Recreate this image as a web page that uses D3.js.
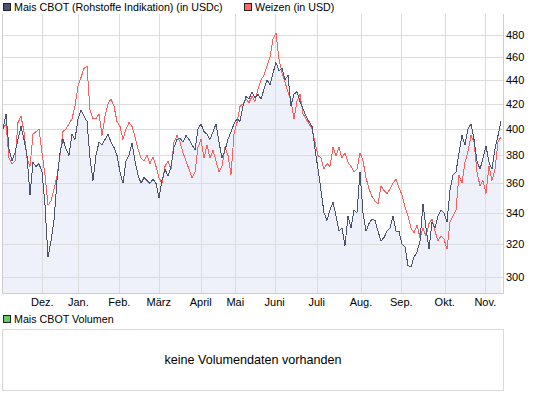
<!DOCTYPE html>
<html>
<head>
<meta charset="utf-8">
<script src="https://cdn.jsdelivr.net/npm/d3@7"></script>
<style>
body{margin:0;background:#fff;}
text{font-family:"Liberation Sans",Arial,sans-serif;font-size:11px;fill:#000;}
</style>
</head>
<body>
<svg width="545" height="395"></svg>
<script>
// Mais CBOT (USDc), one value per sample step
var mais=[400,412,385,376,382,392,402,392,380,352,375,372,374,368,345,312,322,335,362,382,
392,385,380,396,392,408,415,410,406,378,362,380,390,388,392,396,390,386,380,368,
360,376,380,389,376,366,360,364,362,360,363,360,350,362,370,365,372,386,392,393,
390,395,392,388,384,400,404,398,396,392,398,404,390,378,384,392,398,404,408,406,
418,426,424,430,425,428,424,432,440,436,446,455,448,450,440,444,418,428,430,422,
416,410,406,402,385,370,355,340,335,342,347,338,328,330,319,338,330,342,340,368,
340,328,333,336,335,328,322,324,328,330,338,328,328,320,318,307,306,312,315,322,
346,330,317,334,330,338,342,340,334,355,366,368,382,395,388,400,404,392,376,370,
378,387,375,370,385,395,406];

// Weizen (USD)
var weizen=[400,404,378,374,376,405,410,398,378,372,396,398,400,382,366,345,348,356,365,380,
398,400,404,408,418,435,442,450,452,415,408,408,412,395,410,420,424,418,406,402,
392,400,405,402,394,385,378,376,380,374,379,372,364,360,372,376,370,390,395,390,
382,376,370,364,368,386,392,378,388,378,384,376,368,372,386,380,366,396,405,418,
420,424,421,426,422,432,440,444,452,460,476,482,458,446,438,430,422,408,422,428,
412,408,404,400,390,380,378,370,374,372,386,380,386,378,382,375,372,368,370,382,
376,364,356,351,348,346,358,355,353,356,360,363,357,352,344,338,330,327,332,324,
330,325,333,336,328,322,325,323,317,334,338,342,366,360,375,383,395,390,368,358,
362,353,372,362,370,390,394];

var months=["Dez.","Jan.","Feb.","März","April","Mai","Juni","Juli","Aug.","Sep.","Okt.","Nov."];
// month start, in sample steps
var monthPos=[13.1,25.1,38.77,51.9,65.9,77.43,90.57,104.57,119.33,132.77,147.23,160.77];
var yTicks=[300,320,340,360,380,400,420,440,460,480];

var svg=d3.select("svg");

var pLeft=3, pRight=503, pTop=14, pBottom=293;

var x=d3.scaleLinear()
.domain([0,500/3])
.range([pLeft,pRight]);

var y=d3.scaleLog()
.domain([291,500])
.range([pBottom,pTop]);

// area under Mais
var area=d3.area()
.x(function(d,i){return x(i);})
.y0(pBottom)
.y1(function(d){return y(d);});

svg.append("path")
.datum(mais)
.attr("d",area)
.attr("fill","#eef1fa");

// grid
svg.selectAll(".hgrid")
.data(yTicks)
.enter()
.append("line")
.attr("class","hgrid")
.attr("x1",pLeft)
.attr("x2",pRight)
.attr("y1",function(d){return Math.round(y(d))+0.5;})
.attr("y2",function(d){return Math.round(y(d))+0.5;})
.attr("stroke","#dcdcdc");

svg.selectAll(".vgrid")
.data(monthPos)
.enter()
.append("line")
.attr("class","vgrid")
.attr("x1",function(d){return Math.round(x(d))+0.5;})
.attr("x2",function(d){return Math.round(x(d))+0.5;})
.attr("y1",pTop)
.attr("y2",pBottom)
.attr("stroke","#dcdcdc");

// frame: left, bottom, right
svg.append("path")
.attr("d","M"+(pLeft-0.5)+","+pTop+"V"+(pBottom+0.5)+"H"+(pRight+0.5)+"V"+pTop)
.attr("fill","none")
.attr("stroke","#cccccc");

var line=d3.line()
.x(function(d,i){return x(i);})
.y(function(d){return y(d);});

svg.append("path")
.datum(weizen)
.attr("d",line)
.attr("fill","none")
.attr("stroke","#ff5c5c")
.attr("stroke-width",1)
.attr("shape-rendering","crispEdges");

svg.append("path")
.datum(mais)
.attr("d",line)
.attr("fill","none")
.attr("stroke","#4a5470")
.attr("stroke-width",1)
.attr("shape-rendering","crispEdges");

// y labels
svg.selectAll(".ylab")
.data(yTicks)
.enter()
.append("text")
.attr("class","ylab")
.attr("x",506)
.attr("y",function(d){return y(d);})
.attr("dy","0.36em")
.text(function(d){return d;});

// month labels
svg.selectAll(".xlab")
.data(monthPos)
.enter()
.append("text")
.attr("class","xlab")
.attr("x",function(d){return x(d);})
.attr("y",306)
.attr("text-anchor","middle")
.text(function(d,i){return months[i];});

// legends
var legend=function(lx,ly,color,label){
svg.append("rect")
.attr("x",lx+0.5)
.attr("y",ly+0.5)
.attr("width",7)
.attr("height",7)
.attr("fill",color)
.attr("stroke","#222");
svg.append("text")
.attr("x",lx+11)
.attr("y",ly+8)
.style("font-size","10.7px")
.text(label);
};
legend(3,3,"#4a5470","Mais CBOT (Rohstoffe Indikation) (in USDc)");
legend(244,3,"#ff6666","Weizen (in USD)");
legend(3,315,"#66cc66","Mais CBOT Volumen");

// volume panel
svg.append("rect")
.attr("x",pLeft-0.5)
.attr("y",329.5)
.attr("width",pRight-pLeft+1)
.attr("height",61)
.attr("fill","#fff")
.attr("stroke","#d8d8d8");

svg.append("text")
.attr("x",253)
.attr("y",359)
.attr("dy","0.36em")
.attr("text-anchor","middle")
.style("font-size","12.6px")
.text("keine Volumendaten vorhanden");
</script>
</body>
</html>
